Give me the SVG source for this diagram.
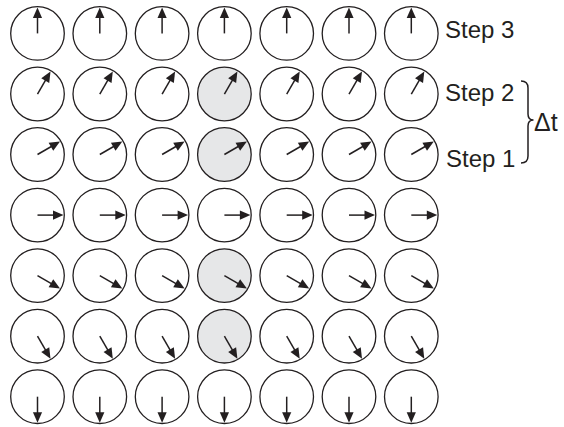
<svg xmlns="http://www.w3.org/2000/svg" xmlns:xlink="http://www.w3.org/1999/xlink" width="564" height="427" viewBox="0 0 564 427">
<style>
.c{fill:#fff;stroke:#231f20;stroke-width:1.3}
.s{fill:#e6e7e8}
.t{font-family:"Liberation Sans",Arial,sans-serif;font-size:24px;fill:#231f20}
.br{fill:none;stroke:#231f20;stroke-width:1.5}
</style>
<defs>
<g id="arr">
<line x1="0" y1="0" x2="0" y2="-17" stroke="#231f20" stroke-width="1.5"/>
<polygon points="0,-26 -4.6,-15.5 4.6,-15.5" fill="#231f20"/>
</g>
</defs>
<rect width="564" height="427" fill="#fff"/>
<g id="grid">
<!-- row 1 -->
<g id="n1-1" transform="translate(37.5,33.4)"><circle class="c" r="26.8"/><use href="#arr"/></g>
<g id="n1-2" transform="translate(99.8,33.4)"><circle class="c" r="26.8"/><use href="#arr"/></g>
<g id="n1-3" transform="translate(162.1,33.4)"><circle class="c" r="26.8"/><use href="#arr"/></g>
<g id="n1-4" transform="translate(224.4,33.4)"><circle class="c" r="26.8"/><use href="#arr"/></g>
<g id="n1-5" transform="translate(286.7,33.4)"><circle class="c" r="26.8"/><use href="#arr"/></g>
<g id="n1-6" transform="translate(349,33.4)"><circle class="c" r="26.8"/><use href="#arr"/></g>
<g id="n1-7" transform="translate(411.3,33.4)"><circle class="c" r="26.8"/><use href="#arr"/></g>
<!-- row 2 -->
<g id="n2-1" transform="translate(37.5,94)"><circle class="c" r="26.8"/><use href="#arr" transform="rotate(30)"/></g>
<g id="n2-2" transform="translate(99.8,94)"><circle class="c" r="26.8"/><use href="#arr" transform="rotate(30)"/></g>
<g id="n2-3" transform="translate(162.1,94)"><circle class="c" r="26.8"/><use href="#arr" transform="rotate(30)"/></g>
<g id="n2-4" transform="translate(224.4,94)"><circle class="c s" r="26.8"/><use href="#arr" transform="rotate(30)"/></g>
<g id="n2-5" transform="translate(286.7,94)"><circle class="c" r="26.8"/><use href="#arr" transform="rotate(30)"/></g>
<g id="n2-6" transform="translate(349,94)"><circle class="c" r="26.8"/><use href="#arr" transform="rotate(30)"/></g>
<g id="n2-7" transform="translate(411.3,94)"><circle class="c" r="26.8"/><use href="#arr" transform="rotate(30)"/></g>
<!-- row 3 -->
<g id="n3-1" transform="translate(37.5,154.5)"><circle class="c" r="26.8"/><use href="#arr" transform="rotate(60)"/></g>
<g id="n3-2" transform="translate(99.8,154.5)"><circle class="c" r="26.8"/><use href="#arr" transform="rotate(60)"/></g>
<g id="n3-3" transform="translate(162.1,154.5)"><circle class="c" r="26.8"/><use href="#arr" transform="rotate(60)"/></g>
<g id="n3-4" transform="translate(224.4,154.5)"><circle class="c s" r="26.8"/><use href="#arr" transform="rotate(60)"/></g>
<g id="n3-5" transform="translate(286.7,154.5)"><circle class="c" r="26.8"/><use href="#arr" transform="rotate(60)"/></g>
<g id="n3-6" transform="translate(349,154.5)"><circle class="c" r="26.8"/><use href="#arr" transform="rotate(60)"/></g>
<g id="n3-7" transform="translate(411.3,154.5)"><circle class="c" r="26.8"/><use href="#arr" transform="rotate(60)"/></g>
<!-- row 4 -->
<g id="n4-1" transform="translate(37.5,215.1)"><circle class="c" r="26.8"/><use href="#arr" transform="rotate(90)"/></g>
<g id="n4-2" transform="translate(99.8,215.1)"><circle class="c" r="26.8"/><use href="#arr" transform="rotate(90)"/></g>
<g id="n4-3" transform="translate(162.1,215.1)"><circle class="c" r="26.8"/><use href="#arr" transform="rotate(90)"/></g>
<g id="n4-4" transform="translate(224.4,215.1)"><circle class="c" r="26.8"/><use href="#arr" transform="rotate(90)"/></g>
<g id="n4-5" transform="translate(286.7,215.1)"><circle class="c" r="26.8"/><use href="#arr" transform="rotate(90)"/></g>
<g id="n4-6" transform="translate(349,215.1)"><circle class="c" r="26.8"/><use href="#arr" transform="rotate(90)"/></g>
<g id="n4-7" transform="translate(411.3,215.1)"><circle class="c" r="26.8"/><use href="#arr" transform="rotate(90)"/></g>
<!-- row 5 -->
<g id="n5-1" transform="translate(37.5,275.6)"><circle class="c" r="26.8"/><use href="#arr" transform="rotate(120)"/></g>
<g id="n5-2" transform="translate(99.8,275.6)"><circle class="c" r="26.8"/><use href="#arr" transform="rotate(120)"/></g>
<g id="n5-3" transform="translate(162.1,275.6)"><circle class="c" r="26.8"/><use href="#arr" transform="rotate(120)"/></g>
<g id="n5-4" transform="translate(224.4,275.6)"><circle class="c s" r="26.8"/><use href="#arr" transform="rotate(120)"/></g>
<g id="n5-5" transform="translate(286.7,275.6)"><circle class="c" r="26.8"/><use href="#arr" transform="rotate(120)"/></g>
<g id="n5-6" transform="translate(349,275.6)"><circle class="c" r="26.8"/><use href="#arr" transform="rotate(120)"/></g>
<g id="n5-7" transform="translate(411.3,275.6)"><circle class="c" r="26.8"/><use href="#arr" transform="rotate(120)"/></g>
<!-- row 6 -->
<g id="n6-1" transform="translate(37.5,336.2)"><circle class="c" r="26.8"/><use href="#arr" transform="rotate(150)"/></g>
<g id="n6-2" transform="translate(99.8,336.2)"><circle class="c" r="26.8"/><use href="#arr" transform="rotate(150)"/></g>
<g id="n6-3" transform="translate(162.1,336.2)"><circle class="c" r="26.8"/><use href="#arr" transform="rotate(150)"/></g>
<g id="n6-4" transform="translate(224.4,336.2)"><circle class="c s" r="26.8"/><use href="#arr" transform="rotate(150)"/></g>
<g id="n6-5" transform="translate(286.7,336.2)"><circle class="c" r="26.8"/><use href="#arr" transform="rotate(150)"/></g>
<g id="n6-6" transform="translate(349,336.2)"><circle class="c" r="26.8"/><use href="#arr" transform="rotate(150)"/></g>
<g id="n6-7" transform="translate(411.3,336.2)"><circle class="c" r="26.8"/><use href="#arr" transform="rotate(150)"/></g>
<!-- row 7 -->
<g id="n7-1" transform="translate(37.5,396.7)"><circle class="c" r="26.8"/><use href="#arr" transform="rotate(180)"/></g>
<g id="n7-2" transform="translate(99.8,396.7)"><circle class="c" r="26.8"/><use href="#arr" transform="rotate(180)"/></g>
<g id="n7-3" transform="translate(162.1,396.7)"><circle class="c" r="26.8"/><use href="#arr" transform="rotate(180)"/></g>
<g id="n7-4" transform="translate(224.4,396.7)"><circle class="c" r="26.8"/><use href="#arr" transform="rotate(180)"/></g>
<g id="n7-5" transform="translate(286.7,396.7)"><circle class="c" r="26.8"/><use href="#arr" transform="rotate(180)"/></g>
<g id="n7-6" transform="translate(349,396.7)"><circle class="c" r="26.8"/><use href="#arr" transform="rotate(180)"/></g>
<g id="n7-7" transform="translate(411.3,396.7)"><circle class="c" r="26.8"/><use href="#arr" transform="rotate(180)"/></g>
</g>
<g id="labels">
<text class="t" x="445" y="38">Step 3</text>
<text class="t" x="445" y="101">Step 2</text>
<text class="t" x="446" y="167">Step 1</text>
<text class="t" x="534" y="131" style="font-size:25px">Δt</text>
</g>
<g id="connectors">
<path class="br" d="M521,81 Q528,81 528,88 L528,114 Q528,120 533.5,120 Q528,120 528,126 L528,156 Q528,163 521,163"/>
</g>
</svg>
